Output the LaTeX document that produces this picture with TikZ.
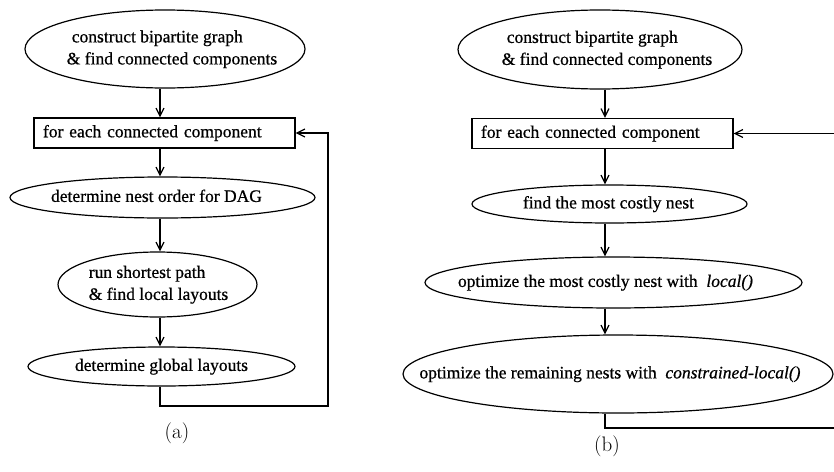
\documentclass[tikz,border=0pt]{standalone}
\usepackage{fontspec}
\setmainfont{Liberation Serif}[BoldFont={Liberation Serif}, BoldFeatures={FakeBold=0.7}, BoldItalicFont={Liberation Serif Italic}, BoldItalicFeatures={FakeBold=0.7}]
\newfontfamily\capfont{Latin Modern Roman}
\usetikzlibrary{shapes.geometric,arrows.meta}
\newcommand{\ovtext}[2][0pt]{\makebox[0pt][c]{\hspace{#1}\hspace{#1}\begin{tabular}{@{}l@{}}#2\end{tabular}}}
\tikzset{
  flow/.style={draw, line width=1.2pt, inner sep=0pt, font=\fontsize{17.5}{22}\selectfont\bfseries},
  oval/.style={flow, ellipse},
  boxnode/.style={flow, rectangle, align=left},
  conn/.style={line width=1.2pt, -{Straight Barb[length=8pt,width=8pt,line width=1.2pt]}},
  subcap/.style={font=\capfont\fontsize{21}{25}\selectfont, inner sep=0pt}
}
\begin{document}
\begin{tikzpicture}[x=1pt,y=-1pt]
\useasboundingbox (0,0) rectangle (834,471);
% ---------- (a) ----------
\coordinate (axL) at (160,0);
\node[oval, minimum width=280pt, minimum height=78pt] (a1) at (165,49)
  {\raisebox{-2pt}{\ovtext[7pt]{\hspace{5pt}construct bipartite graph\\ \& find connected components}}};
\node[boxnode, minimum width=261pt, minimum height=30pt, text width=243pt] (a2) at (164.5,133)
  {for each connected component};
\node[oval, minimum width=305pt, minimum height=41pt] (a3) at (162.5,197.5)
  {\ovtext[-6pt]{determine nest order for DAG}};
\node[oval, minimum width=199pt, minimum height=65pt] (a4) at (157.5,284.5)
  {\ovtext[1pt]{run shortest path\\ \& find local layouts}};
\node[oval, minimum width=267pt, minimum height=39pt] (a5) at (161.5,366.5)
  {\ovtext{determine global layouts}};
\draw[conn] (a1.south -| axL) -- (a2.north -| axL);
\draw[conn] (a2.south -| axL) -- (a3.north -| axL);
\draw[conn] (a3.south -| axL) -- (a4.north -| axL);
\draw[conn] (a4.south -| axL) -- (a5.north -| axL);
\coordinate (fa) at (328,406);
\draw[conn] (a5.south -| axL) |- (fa) |- (a2.east);
\node[subcap] (capa) at (177,433) {(a)};
% ---------- (b) ----------
\coordinate (axR) at (605,0);
\node[oval, minimum width=284pt, minimum height=79pt] (b1) at (600,49.5)
  {\raisebox{-2pt}{\ovtext[7pt]{\hspace{5pt}construct bipartite graph\\ \& find connected components}}};
\node[boxnode, minimum width=261pt, minimum height=30pt, text width=243pt] (b2) at (602.5,133.5)
  {for each connected component};
\node[oval, minimum width=275pt, minimum height=38pt] (b3) at (609.5,204)
  {\ovtext[-1pt]{find the most costly nest}};
\node[oval, minimum width=377pt, minimum height=51pt] (b4) at (613.5,282.5)
  {\raisebox{-2pt}{\ovtext[-8pt]{optimize the most costly nest with \ \textit{local()}}}};
\node[oval, minimum width=430pt, minimum height=78pt] (b5) at (618,374)
  {\raisebox{-5pt}{\ovtext[-8pt]{optimize the remaining nests with \ \textit{constrained-local()}}}};
\draw[conn] (b1.south -| axR) -- (b2.north -| axR);
\draw[conn] (b2.south -| axR) -- (b3.north -| axR);
\draw[conn] (b3.south -| axR) -- (b4.north -| axR);
\draw[conn] (b4.south -| axR) -- (b5.north -| axR);
\coordinate (fb) at (836,428);
\draw[conn] (b5.south -| axR) |- (fb) |- (b2.east);
\node[subcap] (capb) at (607,446) {(b)};
\end{tikzpicture}
\end{document}
